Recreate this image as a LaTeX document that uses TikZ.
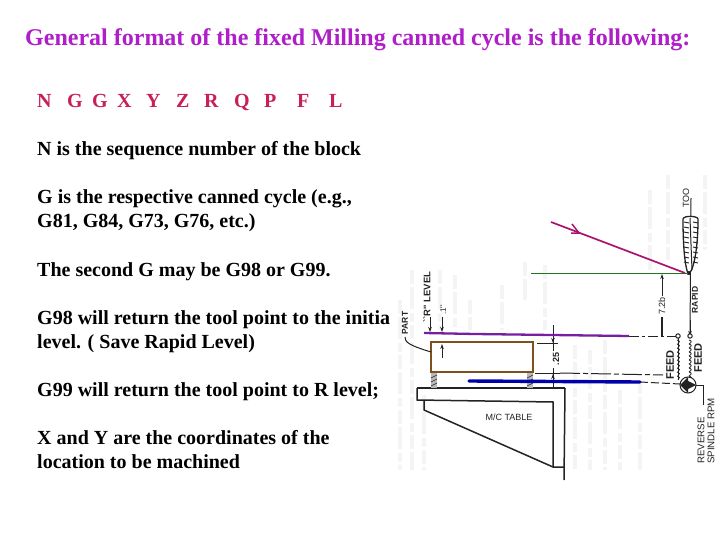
\documentclass[tikz,border=0pt]{standalone}
\usepackage{fontspec}
\setmainfont{Liberation Serif}
\newfontfamily\labelfont{Liberation Sans}
\usetikzlibrary{arrows.meta}
\definecolor{titlemag}{RGB}{175,30,200}
\definecolor{codered}{RGB}{200,30,90}
\definecolor{magline}{RGB}{170,20,110}
\definecolor{purpline}{RGB}{120,30,160}
\definecolor{brownbox}{RGB}{125,80,30}
\definecolor{blueline}{RGB}{0,0,170}
\definecolor{greenline}{RGB}{30,120,30}
\definecolor{ink}{RGB}{35,35,35}
\definecolor{ghost}{RGB}{244,244,244}
\tikzset{
  x=1pt,y=-1pt,
  bodytext/.style={anchor=base west,inner sep=0pt,font=\fontsize{20}{22}\selectfont\bfseries,text=black},
  codetext/.style={bodytext,text=codered},
  titletext/.style={anchor=base west,inner sep=0pt,font=\fontsize{24}{26}\selectfont\bfseries,text=titlemag},
  draft/.style={ink,line width=1pt},
  heavy/.style={ink,line width=1.5pt},
  dimlabel/.style={inner sep=0pt,text=ink,font=\labelfont\fontsize{9}{10}\selectfont,rotate=90},
  ghostbar/.style={ghost,line width=4.5pt,dash pattern=on 14pt off 3pt on 22pt off 4pt on 9pt off 3pt},
  dimtip/.style={-{Stealth[length=5pt,width=3.5pt]},ink,line width=1pt}
}
\begin{document}
\begin{tikzpicture}
\useasboundingbox (0,0) rectangle (720,540);
\fill[white] (0,0) rectangle (720,540);
% text
\node[titletext] at (25,46) {General format of the fixed Milling canned cycle is the following:};
\node[codetext] at (37,108) {N};
\node[codetext] at (67,108) {G};
\node[codetext] at (92,108) {G};
\node[codetext] at (117,108) {X};
\node[codetext] at (146,108) {Y};
\node[codetext] at (176,108) {Z};
\node[codetext] at (204,108) {R};
\node[codetext] at (234,108) {Q};
\node[codetext] at (264,108) {P};
\node[codetext] at (297,108) {F};
\node[codetext] at (329,108) {L};
\node[bodytext] at (37,156) {N is the sequence number of the block};
\node[bodytext] at (37,204) {G is the respective canned cycle (e.g.,};
\node[bodytext] at (37,228) {G81, G84, G73, G76, etc.)};
\node[bodytext] at (37,276) {The second G may be G98 or G99.};
\node[bodytext] at (37,324) {G98 will return the tool point to the initia};
\node[bodytext] at (37,348) {level. ( Save Rapid Level)};
\node[bodytext] at (37,396) {G99 will return the tool point to R level;};
\node[bodytext] at (37,444) {X and Y are the coordinates of the};
\node[bodytext] at (37,468) {location to be machined};
% ghost show-through of the scanned page
\foreach \gx/\gt/\gb in {400/300/470,412/270/470,424/395/470,440/270/330,455/275/330,470/300/330,502/285/330,525/262/300,
   545/265/330,575/345/470,590/350/470,605/340/470,620/390/470,640/380/470,650/190/270,668/175/260,705/175/250}
  \draw[ghostbar] (\gx,\gt) -- (\gx,\gb);
% table
\draw[heavy] (417,388) -- (565,388);
\draw[heavy] (417,388) -- (417,400) -- (553,402) -- (553,467);
\draw[heavy] (424,401) -- (424,410) -- (553,467) -- (564,467);
\draw[heavy] (565,388) -- (564,480);
\node[inner sep=0pt,text=ink,font=\labelfont\fontsize{9}{9}\selectfont] (tablelabel) at (509,417) {M/C TABLE};
% supports
\fill[gray!55] (431,373) rectangle (437,388);
\fill[gray!55] (527,373) rectangle (533,388);
\foreach \sx in {431,527} \foreach \sy in {375,379,383}
  \draw[ink,line width=0.6pt] (\sx,\sy+3) -- (\sx+6,\sy);
% part
\draw[brownbox,line width=1.8pt] (431,342) rectangle (533,372);
% dim lines
\draw[draft] (553,325) -- (553,388);
\draw[draft] (537,343) -- (558,343);
\draw[draft] (535,373) -- (560,373);
\draw[draft,dash pattern=on 20pt off 3pt on 5pt off 3pt] (560,373) -- (663,375);
\draw[draft,dash pattern=on 10pt off 3pt on 3pt off 3pt] (629,336) -- (677,336);
\draw[draft,dash pattern=on 8pt off 3pt] (640,382) -- (680,384);
\draw[dimtip] (553,330) -- (553,343);
\draw[dimtip] (553,388) -- (553,374);
\fill[white] (550,351) rectangle (560,368);
\node[dimlabel,font=\labelfont\bfseries\fontsize{9}{10}\selectfont] (dimtwentyfive) at (556,359) {.25};
\draw[dimtip] (662,285) -- (662,274);
\draw[draft] (662,285) -- (662,296);
\draw[draft,line width=1.6pt] (662,317) -- (662,336);
\node[dimlabel] (dimrapid) at (662,306) {7.2b};
\draw[dimtip] (442,317) -- (442,332);
\draw[dimtip] (442,358) -- (442,344);
\draw[dimtip] (430,317) -- (430,332);
\node[dimlabel,font=\labelfont\bfseries\fontsize{9.5}{10}\selectfont] (rlevel) at (427,297) {``R'' LEVEL};
\node[dimlabel,font=\labelfont\fontsize{8}{9}\selectfont] (onetenth) at (443,310) {.1''};
\node[dimlabel,font=\labelfont\bfseries\fontsize{8.5}{10}\selectfont] (partlabel) at (405,323) {PART};
\draw[draft] (405,337) .. controls (405,342) and (408,345) .. (431,352);
% spindle side
\draw[draft] (691,198) -- (690,336);
\draw[dimtip] (690,320) -- (690,336);
\draw[draft] (678,338) -- (678,380);
\foreach \wy in {340,344,...,376}{
  \draw[ink,line width=0.8pt] (677,\wy) .. controls (680,\wy+1) and (680,\wy+2) .. (678,\wy+4);
  \draw[ink,line width=0.8pt] (689,\wy) .. controls (692,\wy+1) and (692,\wy+2) .. (689,\wy+4);
}
\draw[draft,fill=white] (678,336) circle (2.2pt);
\draw[draft,fill=white] (690,336) circle (2.2pt);
\draw[draft,fill=white] (688,385) circle (8pt);
\fill[ink] (680,385) -- (688,377) -- (688,393) -- cycle;
\fill[ink] (688,381) -- (696,385) -- (688,389) -- cycle;
\draw[draft] (696,385) -- (703,385) -- (703,405);
\node[dimlabel,font=\labelfont\bfseries\fontsize{8.5}{10}\selectfont] (rapidlabel) at (695,300) {RAPID};
\node[dimlabel,font=\labelfont\bfseries\fontsize{11}{12}\selectfont] (feedone) at (670,365) {FEED};
\node[dimlabel,font=\labelfont\bfseries\fontsize{11}{12}\selectfont] (feedtwo) at (698,358) {FEED};
\node[dimlabel,align=left,font=\labelfont\fontsize{9.7}{10}\selectfont] (spindlelabel) at (706,431) {REVERSE\\SPINDLE RPM};
% tool
\node[dimlabel] (toollabel) at (686,198) {TOO};
\draw[ink,line width=1.3pt,fill=white] (683,219) .. controls (683,240) and (684,262) .. (688,274)
  .. controls (692,274) and (698,255) .. (698,219) .. controls (698,216) and (684,215) .. (683,219) -- cycle;
\foreach \ty in {222,227,...,262}{
  \draw[ink,line width=0.9pt] (684,\ty) -- (689,\ty+1);
  \draw[ink,line width=0.9pt] (693,\ty) -- (698,\ty+1);
}
\draw[ink,line width=1pt] (690,218) -- (692,270);
\fill[ink] (689,273) circle (2pt);
% overlay lines
\draw[greenline,line width=1pt] (531,273) -- (688,273);
\draw[magline,line width=1.7pt] (551,222) -- (685,273);
\draw[magline,line width=1.5pt] (572,224) -- (579,233) -- (571,233);
\draw[purpline,line width=2.3pt] (424,333) -- (475,334) -- (629,336);
\draw[blueline,line width=3.4pt,line cap=round] (469,381) -- (640,382);
\end{tikzpicture}
\end{document}
